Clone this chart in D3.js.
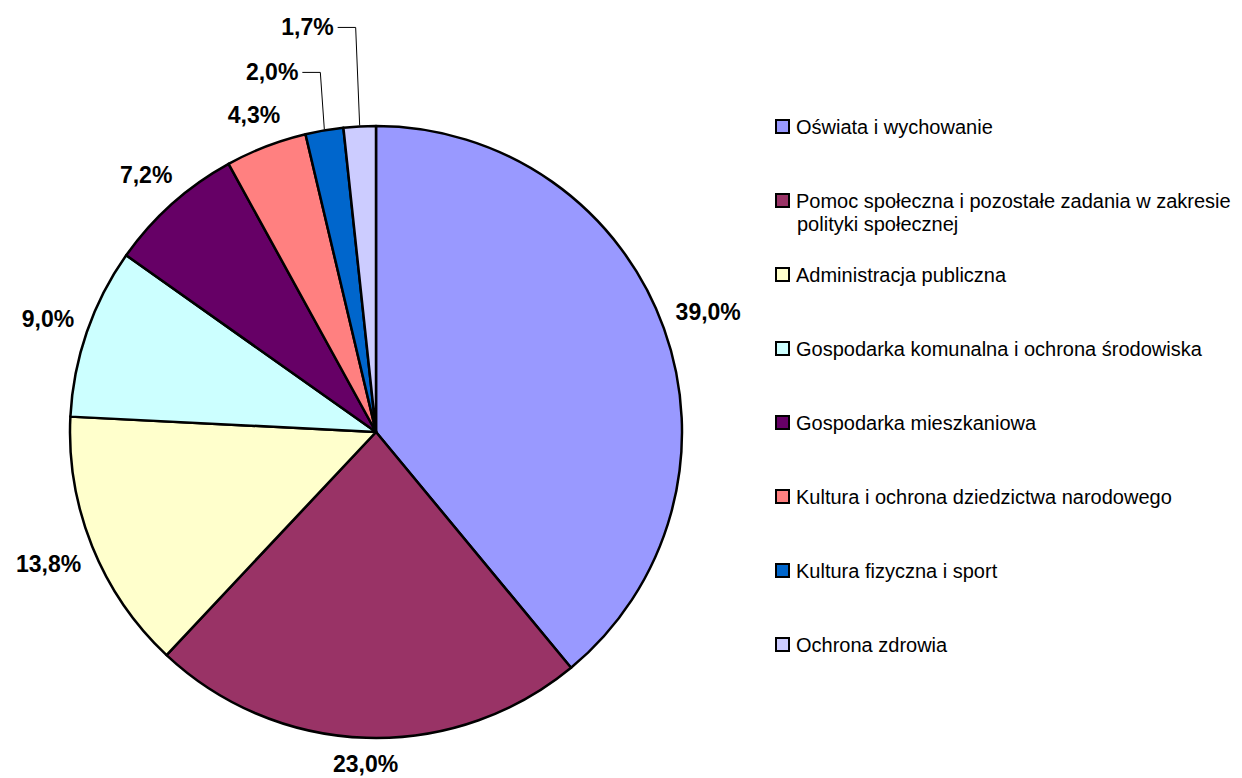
<!DOCTYPE html>
<html>
<head>
<meta charset="utf-8">
<script src="https://cdn.jsdelivr.net/npm/d3@7"></script>
<style>
  body { margin: 0; background: #fff; }
  svg { display: block; font-family: "Liberation Sans", Arial, sans-serif; }
</style>
</head>
<body>
<script>
// categories, values (percent) and slice colours
var categories = [
  "Oświata i wychowanie",
  "Pomoc społeczna i pozostałe zadania w zakresie|polityki społecznej",
  "Administracja publiczna",
  "Gospodarka komunalna i ochrona środowiska",
  "Gospodarka mieszkaniowa",
  "Kultura i ochrona dziedzictwa narodowego",
  "Kultura fizyczna i sport",
  "Ochrona zdrowia"
];
var values = [39.0, 23.0, 13.8, 9.0, 7.2, 4.3, 2.0, 1.7];
var colors = ["#9999ff", "#993366", "#ffffcc", "#ccffff", "#660066", "#ff8080", "#0066cc", "#ccccff"];

var width = 1242, height = 778;
var cx = 376, cy = 432, radius = 306;

var svg = d3.select("body").append("svg")
  .attr("width", width)
  .attr("height", height);

var pie = d3.pie().sort(null).value(function(d) { return d; });
var arcs = pie(values);
var arc = d3.arc().innerRadius(0).outerRadius(radius);

var g = svg.append("g").attr("transform", "translate(" + cx + "," + cy + ")");

g.selectAll("path.slice")
  .data(arcs)
  .enter()
  .append("path")
  .attr("class", "slice")
  .attr("d", arc)
  .attr("fill", function(d, i) { return colors[i]; })
  .attr("stroke", "#000")
  .attr("stroke-width", 2.5)
  .attr("stroke-linejoin", "round");

var fmt = function(v) { return v.toFixed(1).replace(".", ",") + "%"; };

// labels
var gap = 12, halfH = 13, labelSize = 23;
arcs.forEach(function(d, i) {
  var a = (d.startAngle + d.endAngle) / 2;
  var sx = Math.sin(a), sy = -Math.cos(a);
  var t = g.append("text")
    .attr("font-size", labelSize)
    .attr("font-weight", "bold")
    .text(fmt(d.value));
  if (d.value < 2.5) {
    // moved labels with leader lines
    var ex = radius * sx, ey = radius * sy;
    var lift = d.value >= 1.9 ? 58 : 99;
    var elx = ex - 4, ely = ey - lift;
    g.append("path")
      .attr("d", "M" + (elx - 18) + "," + ely + "H" + elx + "L" + ex + "," + (ey - 1))
      .attr("fill", "none")
      .attr("stroke", "#000")
      .attr("stroke-width", 1);
    t.attr("x", elx - 22)
      .attr("y", ely + 8)
      .attr("text-anchor", "end");
  } else {
    var halfW = t.node().getComputedTextLength() / 2;
    var rr = radius + gap + Math.abs(sx) * halfW + Math.abs(sy) * halfH;
    t.attr("x", rr * sx)
      .attr("y", rr * sy + 8)
      .attr("text-anchor", "middle");
  }
});

// legend
var legendY = d3.scalePoint().domain(d3.range(categories.length)).range([127, 645]);
var legend = svg.append("g");
categories.forEach(function(c, i) {
  var y = legendY(i);
  var lines = c.split("|");
  legend.append("rect")
    .attr("x", 776)
    .attr("y", y - 7)
    .attr("width", 13)
    .attr("height", 13)
    .attr("fill", colors[i])
    .attr("stroke", "#000")
    .attr("stroke-width", 2);
  var t = legend.append("text")
    .attr("x", 796)
    .attr("y", y + 7)
    .attr("font-size", 20)
    .attr("fill", "#000");
  lines.forEach(function(l, k) {
    t.append("tspan")
      .attr("x", k == 0 ? 796 : 797)
      .attr("dy", k == 0 ? 0 : 23)
      .text(l);
  });
});
</script>
</body>
</html>
